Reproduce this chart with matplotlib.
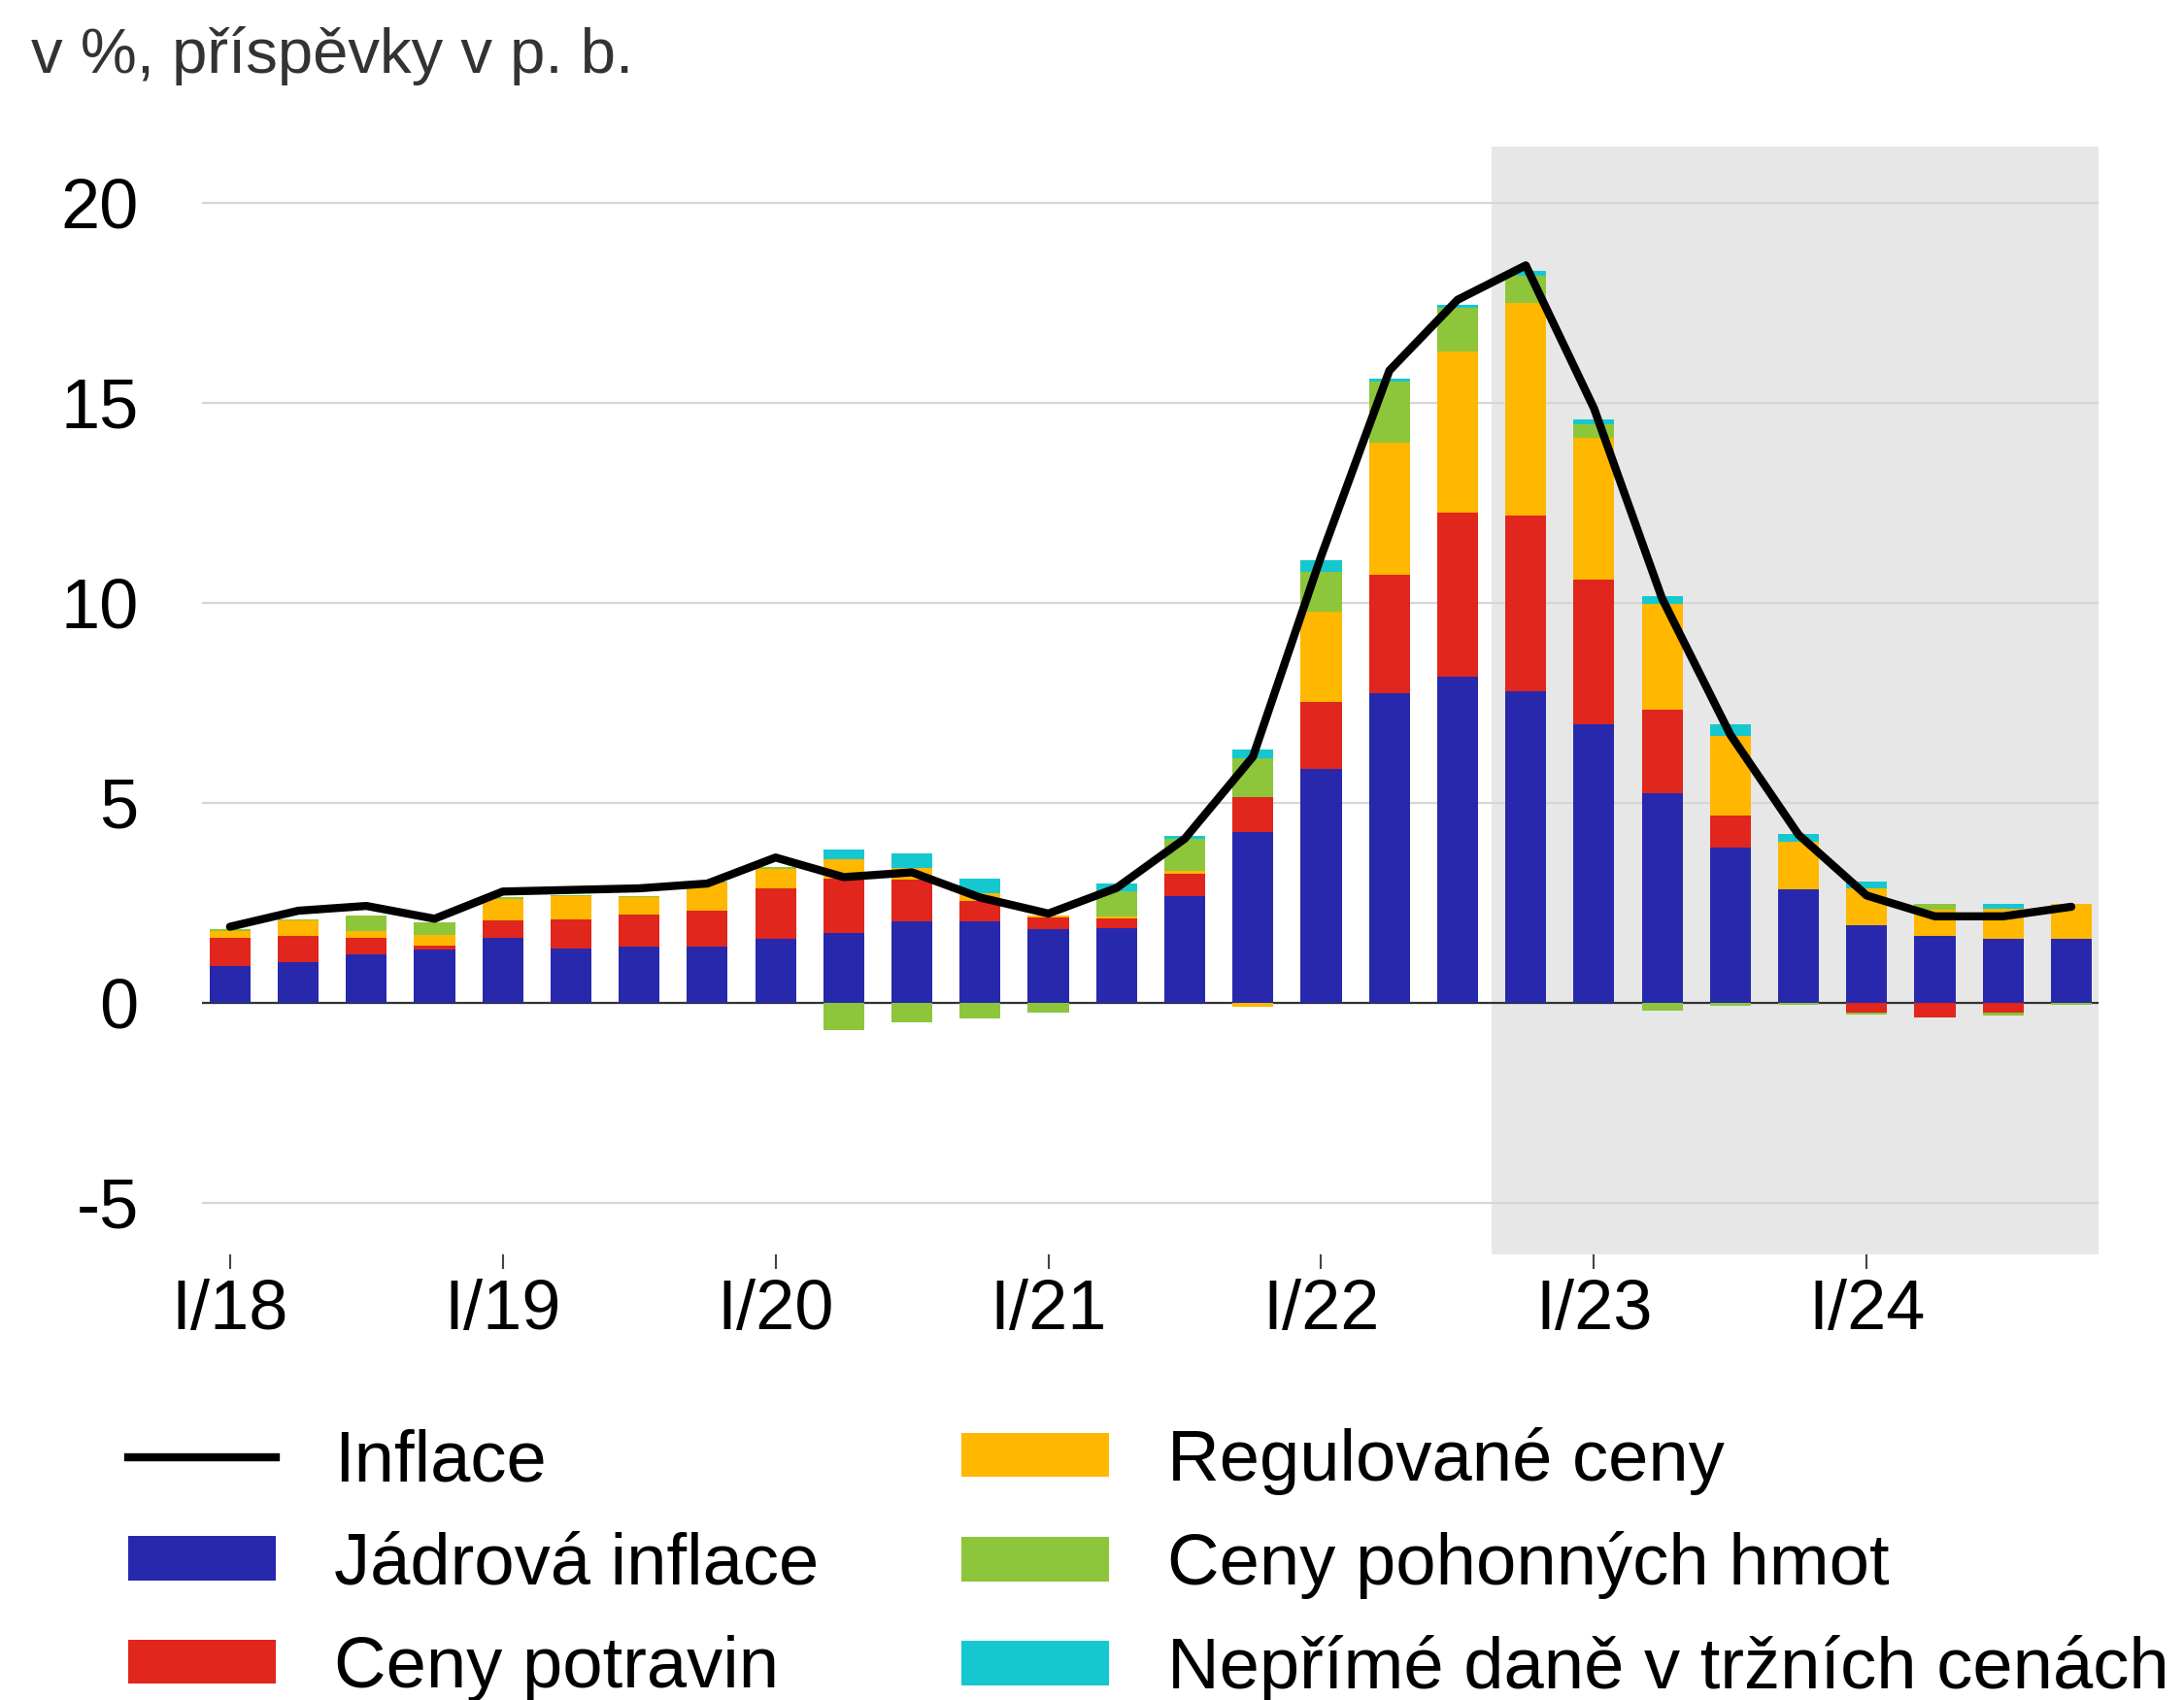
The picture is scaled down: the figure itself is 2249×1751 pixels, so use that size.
import numpy as np
import matplotlib.pyplot as plt
from matplotlib.patches import Patch
from matplotlib.lines import Line2D

plt.rcParams['font.family'] = ['Liberation Sans', 'DejaVu Sans']

# quarters I/18 .. IV/24
quarters = [f"{q}/{y}" for y in range(18, 25) for q in ["I", "II", "III", "IV"]]
tick_labels = ["I/18", "I/19", "I/20", "I/21", "I/22", "I/23", "I/24"]

inflation = [1.9, 2.3, 2.42, 2.1, 2.78, 2.82, 2.86, 2.98, 3.63, 3.14, 3.26, 2.63, 2.23, 2.87,
             4.1, 6.15, 11.16, 15.8, 17.57, 18.43, 14.86, 10.1, 6.7, 4.2, 2.68, 2.16, 2.16, 2.4]
core = [0.93, 1.01, 1.21, 1.33, 1.62, 1.35, 1.4, 1.4, 1.6, 1.75, 2.03, 2.03, 1.85, 1.87,
        2.67, 4.27, 5.85, 7.73, 8.15, 7.79, 6.97, 5.24, 3.87, 2.84, 1.93, 1.67, 1.59, 1.59]
food = [0.69, 0.65, 0.41, 0.09, 0.44, 0.73, 0.8, 0.9, 1.25, 1.35, 1.04, 0.52, 0.28, 0.23,
        0.55, 0.86, 1.68, 2.97, 4.11, 4.39, 3.6, 2.09, 0.82, 0.0, -0.25, -0.36, -0.25, 0.0]
regulated = [0.16, 0.4, 0.16, 0.28, 0.53, 0.58, 0.45, 0.7, 0.5, 0.48, 0.31, 0.2, 0.05, 0.05,
             0.08, -0.1, 2.25, 3.3, 4.03, 5.32, 3.56, 2.64, 1.98, 1.19, 0.93, 0.65, 0.76, 0.89]
fuel = [0.05, 0.03, 0.4, 0.32, 0.05, 0.02, 0.02, 0.02, 0.05, -0.68, -0.48, -0.4, -0.24, 0.64,
        0.8, 0.99, 0.99, 1.52, 1.08, 0.66, 0.33, -0.2, -0.07, -0.05, -0.04, 0.15, -0.08, -0.05]
taxes = [0, 0, 0, 0, 0, 0, 0, 0, 0, 0.24, 0.36, 0.35, 0.0, 0.2,
         0.08, 0.2, 0.29, 0.08, 0.07, 0.14, 0.11, 0.2, 0.29, 0.2, 0.17, 0.0, 0.13, 0.0]

names = ["Jádrová inflace", "Ceny potravin", "Regulované ceny",
         "Ceny pohonných hmot", "Nepřímé daně v tržních cenách"]
colors = ["#2828ad", "#e0261d", "#ffb700", "#8dc63a", "#15c8cf"]
series = [core, food, regulated, fuel, taxes]

x = np.arange(len(quarters))

fig = plt.figure(figsize=(22.49, 17.51), dpi=100)
ax = fig.add_axes([0.0925, 0.2621, 0.8684, 0.6517])

# forecast shading
ax.axvspan(18.5, 40, color="#e7e7e7", zorder=0, lw=0)

pos_bottom = np.zeros(len(x))
neg_bottom = np.zeros(len(x))
for vals, col in zip(series, colors):
    v = np.array(vals, dtype=float)
    pos = np.where(v > 0, v, 0)
    neg = np.where(v < 0, v, 0)
    ax.bar(x, pos, 0.6, bottom=pos_bottom, color=col, zorder=3, lw=0)
    ax.bar(x, neg, 0.6, bottom=neg_bottom, color=col, zorder=3, lw=0)
    pos_bottom += pos
    neg_bottom += neg

ax.axhline(0, color="#333333", lw=1.6, zorder=2)
ax.plot(x, inflation, color="black", lw=6, zorder=4, solid_joinstyle="round",
        solid_capstyle="round")

ax.set_xlim(-0.41, 27.4)
ax.set_ylim(-6.29, 21.4)
ax.set_yticks([-5, 0, 5, 10, 15, 20])
ax.set_yticklabels(["-5", "0", "5", "10", "15", "20"])
ax.set_xticks(x[::4])
ax.set_xticklabels(tick_labels)
ax.grid(axis="y", color="#d6d6d6", lw=1.6)
ax.set_axisbelow(True)
for s in ax.spines.values():
    s.set_visible(False)
ax.tick_params(axis="y", length=0, pad=47, labelsize=52)
ax.tick_params(axis="x", length=11, width=1.5, color="#444444", direction="out",
               pad=7, labelsize=52)

fig.text(32 / 2249, 1 - 75 / 1751, "v %, příspěvky v p. b.", fontsize=47,
         color="#333333", va="baseline", ha="left")

h_left = [Line2D([0], [0], color="black", lw=6),
          Patch(color=colors[0], lw=0), Patch(color=colors[1], lw=0)]
h_right = [Patch(color=colors[2], lw=0), Patch(color=colors[3], lw=0),
           Patch(color=colors[4], lw=0)]
common = dict(loc="center left", frameon=False, fontsize=53.5, borderpad=0,
              borderaxespad=0, handlelength=2.05, handleheight=0.57,
              handletextpad=0.8, labelspacing=0.5)
fig.legend(h_left, ["Inflace"] + names[:2], bbox_to_anchor=(132 / 2249, 0.0794), **common)
fig.legend(h_right, names[2:], bbox_to_anchor=(990 / 2249, 0.0794), **common)

fig.savefig("out.png", dpi=100)
